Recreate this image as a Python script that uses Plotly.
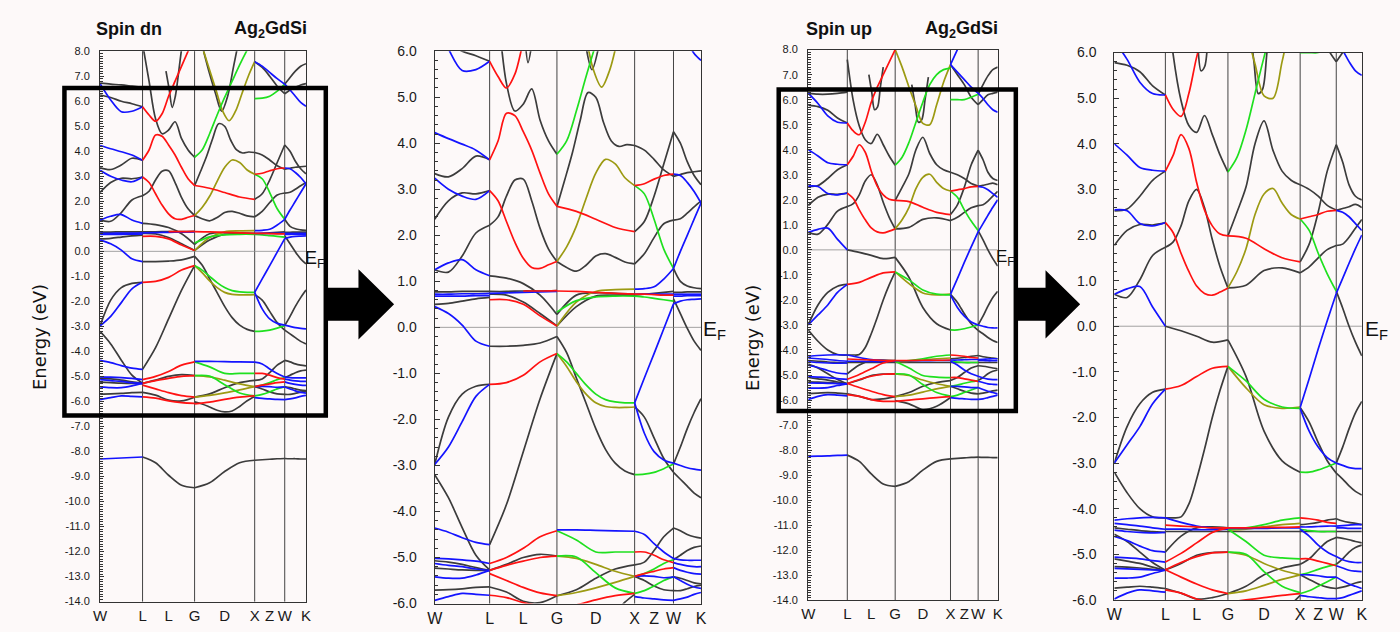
import numpy as np
import plotly.graph_objects as go

FIG_W, FIG_H = 1400, 632

# High-symmetry path W-L-G-X-W-K (units of 2*pi/a)
K_NODES = [0.0, 0.707, 1.573, 2.573, 3.073, 3.427]
K_TICKS = [0.0, 0.707, 1.140, 1.573, 2.073, 2.573, 2.823, 3.073, 3.427]
K_LABELS = ["W", "L", "L", "G", "D", "X", "Z", "W", "K"]

BAND_COLORS = {"k": "#3c3c3c", "o": "#9c9a12", "g": "#1fe01f", "b": "#1414ff", "r": "#ff1212"}

# Each entry: (colour, energies evenly spaced along the segment[, f_start, f_end])
# ---------------- spin down ----------------
DN_WL = [
    ("b", [6.7, 6.05, 5.58, 5.6, 5.78]), ("k", [6.25, 6.15, 6.0, 5.9, 5.78]),
    ("k", [6.72, 6.68, 6.65, 6.6, 6.55]), ("b", [4.23, 4.1, 3.98, 3.85, 3.64]),
    ("k", [3.34, 3.27, 3.45, 3.72, 3.64]), ("b", [3.24, 3.0, 2.85, 2.78, 2.97]),
    ("k", [2.35, 2.75, 2.92, 2.9, 2.97]), ("k", [1.25, 1.2, 1.55, 2.05, 2.22]),
    ("b", [1.25, 1.4, 1.47, 1.25, 1.12]), ("k", [0.77, 0.77, 0.78, 0.78, 0.78]),
    ("b", [0.72, 0.72, 0.73, 0.73, 0.74]), ("b", [0.68, 0.68, 0.68, 0.69, 0.69]),
    ("k", [0.5, 0.52, 0.57, 0.62, 0.65]), ("b", [0.45, 0.3, 0.05, -0.3, -0.41]),
    ("b", [-2.98, -2.6, -2.05, -1.5, -1.24]), ("k", [-2.98, -1.95, -1.45, -1.28, -1.24]),
    ("k", [-3.2, -3.7, -4.35, -4.95, -5.27]), ("b", [-4.36, -4.45, -4.57, -4.67, -4.72]),
    ("b", [-5.02, -5.03, -5.05, -5.08, -5.13]), ("k", [-5.07, -5.1, -5.15, -5.22, -5.28]),
    ("b", [-5.13, -5.17, -5.2, -5.25, -5.28]), ("k", [-5.23, -5.25, -5.27, -5.28, -5.28]),
    ("b", [-5.42, -5.45, -5.45, -5.38, -5.28]), ("k", [-5.71, -5.7, -5.68, -5.65, -5.64]),
    ("b", [-5.93, -5.85, -5.78, -5.8, -5.82]), ("b", [-8.3, -8.28, -8.26, -8.24, -8.22]),
]
DN_LG = [
    ("r", [5.78, 5.45, 5.2, 5.5, 6.2, 6.8, 7.4, 8.0, 8.6]),
    ("k", [8.3, 6.8, 5.3, 4.7, 4.85, 5.18, 4.5, 4.05, 3.76]),
    ("k", [7.2, 6.5, 5.75, 6.2, 7.1, 8.1], 0.45, 0.75),
    ("r", [3.64, 4.05, 4.65, 4.6, 4.25, 3.85, 3.35, 2.9, 2.63]),
    ("r", [2.97, 2.75, 2.3, 1.85, 1.5, 1.3, 1.28, 1.36, 1.43]),
    ("k", [2.22, 2.4, 2.85, 3.2, 3.22, 2.75, 2.15, 1.7, 1.43]),
    ("k", [1.12, 1.07, 0.95, 0.7, 0.28]), ("k", [0.72, 0.7, 0.55, 0.3, 0.03]),
    ("r", [0.6, 0.6, 0.5, 0.25, 0.03]), ("b", [0.74, 0.75, 0.76, 0.77, 0.78]),
    ("k", [0.78, 0.78, 0.79, 0.79, 0.8]), ("r", [0.79, 0.79, 0.8], 0.5, 1.0),
    ("k", [-0.41, -0.41, -0.39, -0.34, -0.2]), ("r", [-1.24, -1.2, -1.04, -0.75, -0.57]),
    ("k", [-4.72, -3.85, -2.7, -1.55, -0.57]), ("r", [-5.13, -5.0, -4.8, -4.55, -4.42]),
    ("k", [-5.28, -5.15, -5.0, -4.93, -4.97]), ("r", [-5.28, -5.17, -5.08, -5.0, -4.97]),
    ("r", [-5.35, -5.5, -5.65, -5.77, -5.83]), ("r", [-5.82, -5.87, -5.98, -6.05, -6.08]),
    ("k", [-5.64, -5.75, -5.95, -5.98, -5.83]), ("k", [-8.22, -8.45, -8.95, -9.35, -9.45]),
]
DN_GX = [
    ("g", [3.76, 4.05, 4.7, 5.45, 6.15, 6.8, 7.45, 8.05, 8.6]),
    ("o", [8.0, 7.2, 6.4, 5.6, 5.22, 5.6, 6.3, 7.0, 7.58], 0.15, 1.0),
    ("k", [8.0, 7.1, 6.3, 5.6, 6.2, 7.4, 8.6], 0.15, 0.75),
    ("k", [2.62, 3.2, 3.8, 4.5, 5.1, 5.0, 4.45, 4.05, 3.93, 3.97, 3.95]),
    ("o", [1.43, 1.75, 2.2, 2.8, 3.35, 3.65, 3.55, 3.25, 3.08]),
    ("r", [2.63, 2.52, 2.35, 2.17, 2.08]),
    ("k", [1.43, 1.3, 1.22, 1.35, 1.55, 1.6, 1.52, 1.42, 1.38]),
    ("g", [0.33, 0.58, 0.66, 0.68, 0.68]), ("o", [0.03, 0.55, 0.78, 0.82, 0.83]),
    ("r", [0.79, 0.78, 0.76, 0.74, 0.72]), ("k", [0.03, 0.45, 0.68, 0.7, 0.7]),
    ("k", [0.28, 0.7, 0.75, 0.74, 0.72]),
    ("k", [-0.2, -0.55, -1.1, -1.65, -2.2, -2.65, -2.95, -3.12, -3.2]),
    ("g", [-0.57, -0.75, -1.0, -1.25, -1.45, -1.57, -1.62, -1.64, -1.64]),
    ("o", [-0.57, -0.85, -1.18, -1.45, -1.64, -1.72, -1.74, -1.74, -1.73]),
    ("b", [-4.4, -4.4, -4.41, -4.42, -4.43]), ("g", [-4.42, -4.62, -4.88, -4.88, -4.88]),
    ("g", [-4.97, -4.99, -5.33, -5.66, -5.78]), ("o", [-4.97, -5.02, -5.15, -5.3, -5.41]),
    ("o", [-5.83, -5.76, -5.66, -5.54, -5.41]), ("k", [-5.83, -5.7, -5.45, -5.25, -5.16]),
    ("r", [-6.1, -6.03, -5.92, -5.83, -5.78]),
    ("k", [-6.02, -6.1, -6.22, -6.35, -6.42, -6.38, -6.2, -5.97, -5.8]),
    ("k", [-9.45, -9.25, -8.8, -8.45, -8.35]),
]
DN_XW = [
    ("g", [6.1, 6.12, 6.2, 6.4, 6.68]), ("b", [7.58, 7.4, 7.15, 6.9, 6.68]),
    ("k", [7.58, 7.35, 7.0, 6.6, 6.3]), ("r", [3.08, 3.12, 3.22, 3.3, 3.33]),
    ("g", [3.08, 2.9, 2.35, 1.7, 1.28]), ("k", [3.95, 3.85, 3.65, 3.42, 3.28]),
    ("k", [2.08, 2.3, 2.85, 3.55, 4.25]), ("k", [1.38, 1.6, 1.95, 2.25, 2.33]),
    ("b", [0.83, 0.84, 0.88, 1.05, 1.28]), ("g", [0.68, 0.66, 0.63, 0.6, 0.57]),
    ("r", [0.72, 0.72, 0.71, 0.7, 0.7]), ("b", [0.72, 0.72, 0.72, 0.72, 0.72]),
    ("k", [0.7, 0.72, 0.74, 0.76, 0.78]), ("b", [-1.64, -1.1, -0.57, -0.03, 0.51]),
    ("k", [-1.73, -1.95, -2.4, -2.85, -3.15]), ("b", [-1.64, -2.3, -2.7, -2.88, -2.95]),
    ("g", [-3.2, -3.19, -3.15, -3.07, -2.97]), ("b", [-4.43, -4.5, -4.7, -4.88, -5.02]),
    ("r", [-4.88, -4.88, -4.95, -5.05, -5.11]), ("k", [-5.16, -5.1, -4.85, -4.55, -4.36]),
    ("g", [-5.41, -5.35, -5.25, -5.13, -5.05]), ("b", [-5.41, -5.4, -5.41, -5.44, -5.42]),
    ("r", [-5.41, -5.35, -5.3, -5.25, -5.22]), ("k", [-5.41, -5.5, -5.62, -5.7, -5.72]),
    ("g", [-5.78, -5.72, -5.62, -5.5, -5.42]), ("b", [-5.85, -5.88, -5.9, -5.92, -5.93]),
    ("k", [-8.35, -8.33, -8.31, -8.29, -8.28]),
]
DN_WK = [
    ("b", [6.68, 6.45, 6.2, 5.95, 5.8]), ("k", [6.68, 6.95, 7.2, 7.4, 7.5]),
    ("k", [6.3, 6.45, 6.55, 6.65, 6.7]), ("k", [4.25, 4.0, 3.6, 3.3, 3.1]),
    ("k", [3.28, 3.32, 3.36, 3.38, 3.4]), ("b", [3.33, 3.3, 3.15, 2.95, 2.7]),
    ("k", [2.33, 2.36, 2.48, 2.62, 2.75]), ("b", [1.28, 1.65, 2.0, 2.35, 2.7]),
    ("k", [1.28, 1.0, 0.9, 0.86, 0.84]), ("b", [0.72, 0.72, 0.72, 0.72, 0.72]),
    ("k", [0.76, 0.76, 0.77, 0.77, 0.77]), ("b", [0.68, 0.68, 0.69, 0.69, 0.69]),
    ("b", [0.51, 0.57, 0.6, 0.61, 0.62]), ("k", [0.62, 0.3, -0.02, -0.3, -0.5]),
    ("b", [-2.95, -3.0, -3.05, -3.08, -3.1]), ("k", [-3.15, -3.3, -3.45, -3.6, -3.7]),
    ("k", [-2.97, -2.6, -2.2, -1.85, -1.55]), ("k", [-4.36, -4.42, -4.5, -4.55, -4.58]),
    ("k", [-5.05, -4.95, -4.85, -4.78, -4.75]), ("b", [-5.02, -5.05, -5.06, -5.06, -5.06]),
    ("b", [-5.11, -5.15, -5.18, -5.2, -5.2]), ("b", [-5.22, -5.28, -5.32, -5.35, -5.36]),
    ("k", [-5.42, -5.45, -5.5, -5.55, -5.57]), ("b", [-5.42, -5.5, -5.58, -5.64, -5.67]),
    ("k", [-5.72, -5.72, -5.68, -5.63, -5.6]), ("b", [-5.93, -5.9, -5.86, -5.8, -5.76]),
    ("k", [-8.28, -8.29, -8.29, -8.3, -8.3]),
]

# ---------------- spin up ----------------
UP_WL = [
    ("b", [6.26, 5.85, 5.35, 5.1, 5.07]), ("k", [5.78, 5.72, 5.58, 5.27, 5.07]),
    ("k", [6.26, 6.22, 6.22, 6.25, 6.3]), ("b", [4.0, 3.75, 3.48, 3.42, 3.4]),
    ("k", [2.53, 2.57, 2.85, 3.2, 3.4]), ("b", [2.55, 2.53, 2.25, 2.2, 2.27]),
    ("k", [1.77, 2.1, 2.23, 2.22, 2.27]), ("k", [0.7, 0.63, 1.02, 1.55, 1.73]),
    ("b", [0.7, 0.82, 0.87, 0.42, 0.0]), ("b", [-3.0, -2.6, -2.2, -1.7, -1.38]),
    ("k", [-3.0, -2.2, -1.7, -1.45, -1.38]), ("k", [-3.2, -3.65, -4.0, -4.18, -4.2]),
    ("b", [-4.25, -4.22, -4.2, -4.19, -4.2]), ("b", [-4.32, -4.35, -4.38, -4.42, -4.45]),
    ("k", [-4.42, -4.45, -4.48, -4.5, -4.52]), ("b", [-4.47, -4.5, -4.52, -4.53, -4.52]),
    ("k", [-4.56, -4.72, -4.95, -5.18, -5.35]), ("b", [-4.61, -4.7, -4.82, -4.92, -4.95]),
    ("b", [-5.06, -5.08, -5.1, -5.14, -5.17]), ("k", [-5.1, -5.15, -5.2, -5.28, -5.35]),
    ("k", [-5.27, -5.28, -5.3, -5.33, -5.35]), ("b", [-5.31, -5.32, -5.33, -5.34, -5.35]),
    ("b", [-5.52, -5.52, -5.5, -5.42, -5.35]), ("k", [-5.74, -5.72, -5.7, -5.72, -5.75]),
    ("b", [-5.98, -5.85, -5.78, -5.8, -5.83]), ("b", [-8.25, -8.24, -8.23, -8.21, -8.2]),
]
UP_LG = [
    ("r", [5.07, 4.75, 4.6, 5.1, 5.9, 6.5, 7.0, 7.5, 8.0]),
    ("k", [7.6, 5.95, 4.95, 4.4, 4.25, 4.62, 4.2, 3.75, 3.38]),
    ("k", [7.0, 6.3, 5.6, 5.7, 6.5, 7.3], 0.45, 0.75),
    ("r", [3.4, 3.75, 4.2, 3.9, 3.15, 2.55, 2.2, 2.02, 1.98]),
    ("r", [2.27, 2.05, 1.6, 1.2, 0.88, 0.72, 0.68, 0.75, 0.84]),
    ("k", [1.73, 1.85, 2.2, 2.75, 3.0, 2.6, 1.9, 1.3, 0.84]),
    ("k", [0.0, -0.1, -0.22, -0.35, -0.3]), ("r", [-1.38, -1.3, -1.1, -0.92, -0.88]),
    ("k", [-4.2, -4.2, -4.18, -3.9, -3.35, -2.7, -2.0, -1.4, -0.88]),
    ("k", [-4.95, -4.6, -4.42, -4.4, -4.42]), ("r", [-4.36, -4.38, -4.4, -4.42, -4.42]),
    ("b", [-4.45, -4.45, -4.46, -4.46, -4.45]), ("b", [-4.2, -4.3, -4.38, -4.42, -4.44]),
    ("k", [-4.5, -4.5, -4.5, -4.5, -4.5]), ("r", [-5.17, -4.98, -4.75, -4.52, -4.42]),
    ("r", [-5.34, -5.18, -5.05, -4.97, -4.95]), ("k", [-5.34, -5.2, -5.02, -4.96, -4.95]),
    ("r", [-5.34, -5.5, -5.65, -5.78, -5.86]), ("r", [-5.78, -5.85, -5.98, -6.05, -6.05]),
    ("k", [-5.75, -5.85, -5.98, -5.95, -5.86]), ("k", [-8.2, -8.45, -8.95, -9.35, -9.45]),
]
UP_GX = [
    ("g", [3.38, 3.7, 4.3, 5.1, 5.9, 6.6, 7.0, 7.2, 7.26]),
    ("o", [8.0, 7.3, 6.5, 5.75, 5.05, 5.0, 5.8, 6.7, 7.4]),
    ("k", [6.6, 5.8, 5.1, 5.2, 6.0, 6.9], 0.3, 0.6),
    ("k", [1.98, 2.5, 3.05, 4.0, 4.5, 3.85, 3.4, 3.2, 3.1]),
    ("o", [0.84, 1.2, 1.7, 2.45, 2.9, 3.02, 2.7, 2.45, 2.35]),
    ("r", [1.98, 1.93, 1.7, 1.5, 1.41]), ("k", [0.84, 0.9, 1.22, 1.28, 1.17]),
    ("k", [-0.3, -1.1, -2.3, -2.95, -3.2]), ("g", [-0.88, -1.2, -1.6, -1.77, -1.8]),
    ("o", [-0.88, -1.35, -1.72, -1.8, -1.77]), ("g", [-4.45, -4.42, -4.35, -4.25, -4.2]),
    ("o", [-4.47, -4.45, -4.4, -4.35, -4.32]), ("r", [-4.42, -4.42, -4.41, -4.41, -4.4]),
    ("b", [-4.43, -4.43, -4.43, -4.42, -4.42]), ("k", [-4.5, -4.5, -4.5, -4.5, -4.5]),
    ("g", [-4.45, -4.72, -5.02, -5.08, -5.1]), ("g", [-4.95, -5.0, -5.38, -5.7, -5.84]),
    ("o", [-4.95, -5.02, -5.2, -5.35, -5.45]), ("o", [-5.86, -5.8, -5.68, -5.55, -5.45]),
    ("k", [-5.86, -5.7, -5.45, -5.3, -5.22]), ("r", [-6.05, -6.0, -5.95, -5.9, -5.86]),
    ("k", [-6.02, -6.15, -6.38, -6.25, -5.9]), ("k", [-9.45, -9.25, -8.8, -8.45, -8.35]),
]
UP_XW = [
    ("g", [6.0, 6.0, 6.0, 6.1, 6.22]), ("b", [7.4, 7.1, 6.8, 6.5, 6.26]),
    ("b", [7.4, 8.0, 8.6], 0.0, 0.5), ("k", [7.4, 7.0, 6.6, 6.1, 5.8]),
    ("k", [3.1, 3.0, 2.85, 2.65, 2.55]), ("k", [1.41, 1.8, 2.5, 3.4, 3.98]),
    ("r", [2.35, 2.4, 2.45, 2.52, 2.54]), ("g", [2.35, 2.1, 1.6, 1.15, 0.77]),
    ("k", [1.17, 1.3, 1.5, 1.68, 1.77]), ("b", [-1.78, -1.15, -0.5, 0.12, 0.72]),
    ("k", [-1.78, -2.1, -2.55, -2.95, -3.22]), ("b", [-1.8, -2.3, -2.65, -2.88, -3.0]),
    ("g", [-3.2, -3.2, -3.15, -3.08, -3.0]), ("r", [-4.2, -4.22, -4.25, -4.3, -4.32]),
    ("k", [-4.35, -4.33, -4.3, -4.25, -4.22]), ("b", [-4.4, -4.4, -4.39, -4.38, -4.38]),
    ("g", [-4.45, -4.48, -4.5, -4.5, -4.5]), ("k", [-4.5, -4.5, -4.5, -4.5, -4.5]),
    ("b", [-4.45, -4.6, -4.8, -4.95, -5.05]), ("r", [-5.1, -5.1, -5.15, -5.2, -5.25]),
    ("k", [-5.22, -5.1, -4.9, -4.72, -4.63]), ("g", [-5.45, -5.4, -5.33, -5.27, -5.22]),
    ("b", [-5.45, -5.45, -5.47, -5.5, -5.5]), ("k", [-5.45, -5.55, -5.65, -5.72, -5.75]),
    ("g", [-5.86, -5.8, -5.7, -5.6, -5.5]), ("b", [-5.9, -5.93, -5.95, -5.97, -5.97]),
    ("k", [-8.35, -8.33, -8.31, -8.29, -8.28]),
]
UP_WK = [
    ("b", [6.26, 6.05, 5.8, 5.6, 5.5]), ("k", [5.8, 6.0, 6.2, 6.25, 6.3]),
    ("k", [6.2, 6.6, 6.95, 7.2, 7.3]), ("k", [3.98, 3.6, 3.1, 2.85, 2.77]),
    ("k", [2.54, 2.58, 2.62, 2.67, 2.6]), ("b", [2.54, 2.5, 2.4, 2.25, 2.1]),
    ("k", [1.77, 1.8, 1.95, 2.15, 2.34]), ("b", [0.72, 1.05, 1.38, 1.7, 2.0]),
    ("k", [0.77, 0.4, 0.0, -0.35, -0.65]), ("b", [-3.0, -3.05, -3.1, -3.12, -3.12]),
    ("k", [-3.22, -3.35, -3.5, -3.62, -3.7]), ("k", [-3.0, -2.65, -2.25, -1.9, -1.65]),
    ("k", [-4.22, -4.27, -4.3, -4.32, -4.35]), ("b", [-4.38, -4.37, -4.36, -4.35, -4.35]),
    ("b", [-4.42, -4.42, -4.43, -4.43, -4.43]), ("k", [-4.5, -4.5, -4.5, -4.5, -4.5]),
    ("k", [-4.63, -4.65, -4.68, -4.72, -4.75]), ("k", [-5.22, -5.1, -4.95, -4.85, -4.8]),
    ("b", [-5.05, -5.12, -5.16, -5.18, -5.18]), ("b", [-5.25, -5.3, -5.35, -5.37, -5.38]),
    ("b", [-5.5, -5.58, -5.65, -5.7, -5.75]), ("k", [-5.75, -5.72, -5.68, -5.63, -5.6]),
    ("b", [-5.97, -5.95, -5.9, -5.85, -5.8]), ("k", [-8.28, -8.29, -8.29, -8.3, -8.3]),
]

SPIN_DN = [DN_WL, DN_LG, DN_GX, DN_XW, DN_WK]
SPIN_UP = [UP_WL, UP_LG, UP_GX, UP_XW, UP_WK]

Y_TICKS_FULL = list(range(-14, 9))
Y_TICKS_ZOOM = list(range(-6, 7))

# panel frames in pixels: left, right, top, bottom
PANELS = [
    dict(box=(93, 301, 44.3, 609.0), yr=(-14, 8), bands=SPIN_DN, full=True),
    dict(box=(431, 700, 44.3, 611.0), yr=(-6, 6), bands=SPIN_DN, full=False),
    dict(box=(808.3, 999.7, 42.7, 607.7), yr=(-14, 8), bands=SPIN_UP, full=True),
    dict(box=(1117.5, 1367.5, 45.7, 607.3), yr=(-6, 6), bands=SPIN_UP, full=False),
]

NARROW = "Liberation Sans Narrow, Liberation Sans, Arial, sans-serif"


def px(x):
    return x / FIG_W


def py(y):
    return 1 - y / FIG_H


def collect(segments):
    out = {c: ([], []) for c in BAND_COLORS}
    for si, curves in enumerate(segments):
        k0, k1 = K_NODES[si], K_NODES[si + 1]
        for cur in curves:
            col, vals = cur[0], cur[1]
            f0, f1 = (cur[2], cur[3]) if len(cur) > 2 else (0.0, 1.0)
            fr = np.linspace(f0, f1, len(vals))
            out[col][0].extend(list(k0 + fr * (k1 - k0)) + [None])
            out[col][1].extend(list(vals) + [None])
    return out


fig = go.Figure()
layout = dict(
    width=FIG_W, height=FIG_H, autosize=False,
    margin=dict(l=0, r=0, t=0, b=0),
    paper_bgcolor="#fdf9f9", plot_bgcolor="#fdf9f9",
    showlegend=False, shapes=[], annotations=[],
)

for i, p in enumerate(PANELS, start=1):
    x0, x1, yt, yb = p["box"]
    sfx = "" if i == 1 else str(i)
    traces = collect(p["bands"])
    for col in ["k", "o", "g", "b", "r"]:
        xs, ys = traces[col]
        fig.add_trace(go.Scatter(
            x=xs, y=ys, mode="lines", xaxis="x" + sfx, yaxis="y" + sfx,
            line=dict(color=BAND_COLORS[col], width=1.7, shape="spline", smoothing=0.9),
            hoverinfo="skip",
        ))
    yt_vals = Y_TICKS_FULL if p["full"] else Y_TICKS_ZOOM
    layout["xaxis" + sfx] = dict(
        domain=[px(x0), px(x1)], anchor="y" + sfx, range=[0, K_NODES[-1]],
        tickvals=K_TICKS, ticktext=K_LABELS, ticks="", tickangle=0,
        showgrid=False, zeroline=False,
        showline=True, mirror=True, linecolor="#333333", linewidth=1.2,
        tickfont=dict(family=NARROW, size=15 if p["full"] else 16, color="#1a1a1a"),
    )
    layout["yaxis" + sfx] = dict(
        domain=[py(yb), py(yt)], anchor="x" + sfx, range=list(p["yr"]),
        tickvals=yt_vals, ticktext=[f"{v:.1f}" for v in yt_vals],
        ticks="inside", ticklen=5 if not p["full"] else 4, tickcolor="#333333",
        minor=dict(dtick=0.1 if p["full"] else 0.2, ticks="inside",
                   ticklen=2.5 if p["full"] else 3, tickcolor="#333333", showgrid=False),
        showgrid=False, zeroline=False, showline=True, mirror=True,
        linecolor="#333333", linewidth=1.2,
        tickfont=dict(family=NARROW, size=11 if p["full"] else 14, color="#1a1a1a"),
        ticklabelstandoff=7 if p["full"] else 14,
    )
    xref, yref = "x" + sfx, "y" + sfx
    for kv in K_NODES[1:-1]:
        layout["shapes"].append(dict(type="line", xref=xref, yref=yref + " domain",
                                     x0=kv, x1=kv, y0=0, y1=1, layer="below",
                                     line=dict(color="#444444", width=1)))
    layout["shapes"].append(dict(type="line", xref=xref + " domain", yref=yref,
                                 x0=0, x1=1, y0=0, y1=0, layer="below",
                                 line=dict(color="#8c8c8c", width=0.8)))

# Fermi level labels
for (xl, yc, fs) in [(298, 258, 18), (700, 330, 21), (996, 257, 17), (1369, 330, 21)]:
    layout["annotations"].append(dict(
        xref="paper", yref="paper", x=px(xl), y=py(yc), xanchor="left", yanchor="middle",
        text="E<sub>F</sub>", showarrow=False, font=dict(family=NARROW, size=fs, color="#111")))

# Titles
for (xl, anchor, txt) in [(87, "left", "Spin dn"), (304, "right", "Ag<sub>2</sub>GdSi"),
                           (804, "left", "Spin up"), (1002, "right", "Ag<sub>2</sub>GdSi")]:
    layout["annotations"].append(dict(
        xref="paper", yref="paper", x=px(xl), y=py(22), xanchor=anchor, yanchor="middle",
        text="<b>" + txt + "</b>", showarrow=False,
        font=dict(family=NARROW, size=18, color="#111")))

# Axis titles
for xc in [32, 752]:
    layout["annotations"].append(dict(
        xref="paper", yref="paper", x=px(xc), y=py(338), xanchor="center", yanchor="middle",
        text="Energy (eV)", textangle=-90, showarrow=False,
        font=dict(family="DejaVu Sans, Verdana, sans-serif", size=18, color="#111")))

# Zoom frames on the full-range panels
for (l, r, t, b) in [(57, 321, 82, 418), (778.5, 1018, 83.5, 413.5)]:
    layout["shapes"].append(dict(type="rect", xref="paper", yref="paper",
                                 x0=px(l), x1=px(r), y0=py(b), y1=py(t),
                                 line=dict(color="#000", width=4.5), fillcolor="rgba(0,0,0,0)"))

# Arrows pointing to the zoomed panels
for (xs, xm, xt, yc, hb, hh) in [(322, 354, 390, 304, 17, 36), (1019, 1048, 1083, 304, 17, 35)]:
    path = (f"M {px(xs)},{py(yc - hb)} L {px(xm)},{py(yc - hb)} L {px(xm)},{py(yc - hh)} "
            f"L {px(xt)},{py(yc)} L {px(xm)},{py(yc + hh)} L {px(xm)},{py(yc + hb)} "
            f"L {px(xs)},{py(yc + hb)} Z")
    layout["shapes"].append(dict(type="path", xref="paper", yref="paper", path=path,
                                 fillcolor="#000", line=dict(color="#000", width=0)))

fig.update_layout(**layout)
fig.write_html("out.html")
